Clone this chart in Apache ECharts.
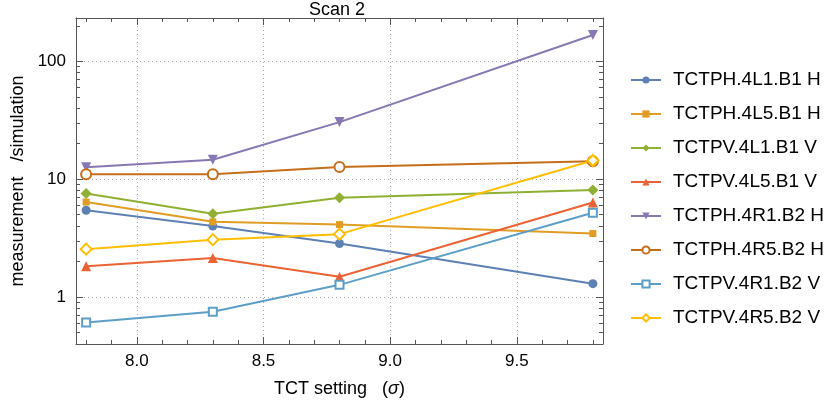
<!DOCTYPE html>
<html>
<head>
<meta charset="utf-8">
<script src="https://cdn.jsdelivr.net/npm/echarts@6/dist/echarts.min.js"></script>
<style>
  html, body { margin: 0; padding: 0; background: #fff; }
  #chart { width: 825px; height: 408px; }
</style>
</head>
<body>
<div id="chart"></div>
<script>
// TCT setting (sigma)
const xs = [7.8, 8.3, 8.8, 9.8];

// measurement / simulation ratios
const tctph4L1B1 = [5.45, 4.0, 2.85, 1.30];
const tctph4L5B1 = [6.4, 4.35, 4.12, 3.46];
const tctpv4L1B1 = [7.55, 5.1, 6.95, 8.1];
const tctpv4L5B1 = [1.83, 2.15, 1.49, 6.35];
const tctph4R1B2 = [12.6, 14.6, 30.5, 167];
const tctph4R5B2 = [11.0, 11.0, 12.7, 14.2];
const tctpv4R1B2 = [0.61, 0.75, 1.27, 5.2];
const tctpv4R5B2 = [2.55, 3.07, 3.42, 14.4];

const names = ['TCTPH.4L1.B1 H', 'TCTPH.4L5.B1 H', 'TCTPV.4L1.B1 V', 'TCTPV.4L5.B1 V',
               'TCTPH.4R1.B2 H', 'TCTPH.4R5.B2 H', 'TCTPV.4R1.B2 V', 'TCTPV.4R5.B2 V'];
const values = [tctph4L1B1, tctph4L5B1, tctpv4L1B1, tctpv4L5B1,
                tctph4R1B2, tctph4R5B2, tctpv4R1B2, tctpv4R5B2];
const colors = ['#5e81b5', '#e19c24', '#8fb032', '#eb6235',
                '#8778b3', '#c56e1a', '#5d9ec7', '#ffbf00'];
const symbols = ['circle', 'rect', 'diamond', 'triangle',
                 'triangle', 'emptyCircle', 'emptyRect', 'emptyDiamond'];
const symbolSizes = [9, 7, 11, 10, 10, 10, 8, 11];
const rotations = [0, 0, 0, 0, 180, 0, 0, 0];

// tick positions
const xMajor = [8.0, 8.5, 9.0, 9.5];
const xMinor = [7.8, 7.9, 8.1, 8.2, 8.3, 8.4, 8.6, 8.7, 8.8, 8.9,
                9.1, 9.2, 9.3, 9.4, 9.6, 9.7, 9.8];
const yMajor = [1, 10, 100];
const yMinor = [0.4, 0.5, 0.6, 0.7, 0.8, 0.9, 2, 3, 4, 5, 6, 7, 8, 9,
                20, 30, 40, 50, 60, 70, 80, 90, 200];

const frame = '#555';
const font = 'Liberation Sans, Arial, Helvetica, sans-serif';
const xMin = 7.76, xMax = 9.84, yMin = 0.4, yMax = 233;

function xAxisDef(pos, major, showLabel) {
  const ticks = major ? xMajor : xMinor;
  return {
    type: 'value', position: pos, min: xMin, max: xMax,
    axisLine: { show: major, onZero: false, lineStyle: { color: frame, width: 1 } },
    axisTick: { show: true, inside: true, length: major ? 7 : 4, customValues: ticks,
                lineStyle: { color: frame } },
    axisLabel: {
      show: showLabel, customValues: ticks, color: '#000', fontSize: 17, fontFamily: font, margin: 9,
      formatter: v => v.toFixed(1)
    },
    splitLine: { show: major && pos === 'bottom', lineStyle: { color: '#aaa', type: [1, 3] } }
  };
}

function yAxisDef(pos, major, showLabel) {
  const ticks = major ? yMajor : yMinor;
  return {
    type: 'log', position: pos, min: yMin, max: yMax,
    axisLine: { show: major, onZero: false, lineStyle: { color: frame, width: 1 } },
    axisTick: { show: true, inside: true, length: major ? 7 : 4, customValues: ticks,
                lineStyle: { color: frame } },
    axisLabel: {
      show: showLabel, customValues: ticks, color: '#000', fontSize: 17, fontFamily: font, margin: 10,
      formatter: v => String(Math.round(v))
    },
    splitLine: { show: major && pos === 'left', lineStyle: { color: '#aaa', type: [1, 3] } }
  };
}

const xAxes = [xAxisDef('bottom', true, true), xAxisDef('bottom', false, false),
               xAxisDef('top', true, false), xAxisDef('top', false, false)];
xAxes[0].name = 'TCT setting   ({i|σ})';
xAxes[0].nameLocation = 'middle';
xAxes[0].nameGap = 36;
xAxes[0].nameTextStyle = { color: '#000', fontSize: 18, fontFamily: font,
  rich: { i: { fontStyle: 'italic', fontSize: 18, fontFamily: font, color: '#000' } } };

const yAxes = [yAxisDef('left', true, true), yAxisDef('left', false, false),
               yAxisDef('right', true, false), yAxisDef('right', false, false)];
yAxes[0].name = 'measurement   /simulation';
yAxes[0].nameLocation = 'middle';
yAxes[0].nameGap = 48;
yAxes[0].nameTextStyle = { color: '#000', fontSize: 18, fontFamily: font };

const series = names.map((n, i) => ({
  name: n,
  type: 'line',
  data: xs.map((x, j) => [x, values[i][j]]),
  symbol: symbols[i],
  symbolSize: symbolSizes[i],
  symbolRotate: rotations[i],
  color: colors[i],
  lineStyle: { width: 2, color: colors[i] },
  itemStyle: { color: colors[i], borderWidth: symbols[i].startsWith('empty') ? 1 : 0 },
  emphasis: { disabled: true },
  z: 3
}));

const myChart = echarts.init(document.getElementById('chart'));
myChart.setOption({
  animation: false,
  backgroundColor: '#fff',
  title: {
    text: 'Scan 2', left: 309, top: 1, padding: 0,
    textStyle: { color: '#000', fontSize: 18, fontWeight: 'normal', fontFamily: font }
  },
  grid: { left: 76, right: 222, top: 18, bottom: 64 },
  legend: {
    orient: 'vertical', left: 630, top: 70, padding: 0,
    itemWidth: 30, itemHeight: 9, itemGap: 14,
    textStyle: { color: '#000', fontSize: 19, fontFamily: font, lineHeight: 20, padding: [0, 0, 0, 7] },
    data: names
  },
  xAxis: xAxes,
  yAxis: yAxes,
  series: series
});
</script>
</body>
</html>
